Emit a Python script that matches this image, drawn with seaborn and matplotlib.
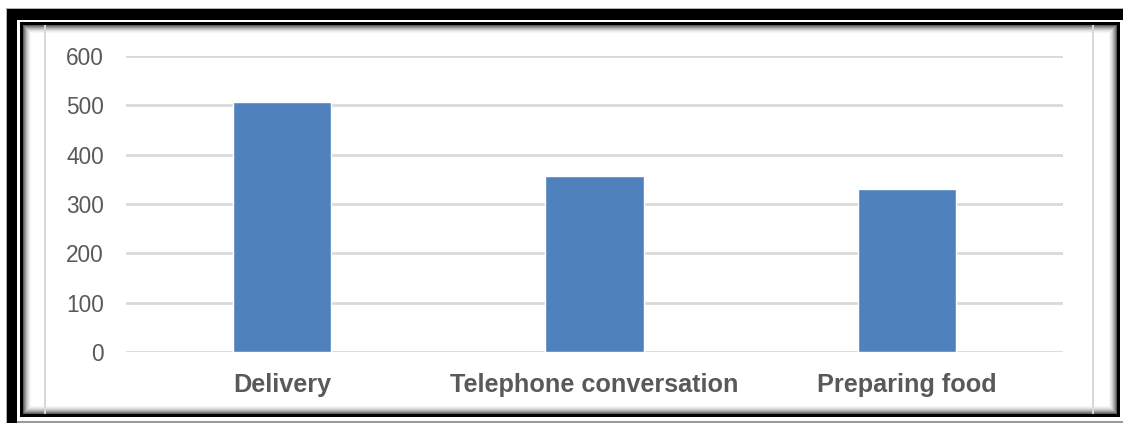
import matplotlib
matplotlib.use("Agg")
import matplotlib.pyplot as plt
from matplotlib.patches import Rectangle
import seaborn as sns
import pandas as pd

categories = ["Delivery", "Telephone conversation", "Preparing food"]
values = [506, 357, 330]
y_ticks = [0, 100, 200, 300, 400, 500, 600]

W, H = 1123, 423
sns.set_theme(style="white")
plt.rcParams["font.family"] = ["Liberation Sans", "DejaVu Sans"]

fig = plt.figure(figsize=(W / 100, H / 100), dpi=100)
fig.patch.set_facecolor("white")


def px_rect(x0, y0, x1, y1, color, z=0, alpha=1.0):
    """Rectangle given in pixel coordinates with the origin at top-left."""
    fig.add_artist(Rectangle((x0 / W, 1 - y1 / H), (x1 - x0) / W, (y1 - y0) / H,
                             transform=fig.transFigure, facecolor=color,
                             edgecolor="none", zorder=z, alpha=alpha))


# page frame: thin grey outline, heavy black band, thin inner black rule
px_rect(6, 8, W, 9, "#b0b0b0")
px_rect(6, 8, 7, H, "#b0b0b0")
px_rect(7, 9, W, 20, "black")
px_rect(7, 9, 17, H, "black")
px_rect(17, 421, W, 423, "#9a9a9a")
px_rect(20, 22, 1120, 417, "black")
px_rect(23, 25, 1117, 414, "white")

# soft inner shadow along the inner rule
shades = ["#5e5e5e", "#808080", "#9c9c9c", "#b6b6b6", "#cccccc", "#dedede", "#ececec", "#f6f6f6"]
for i, c in enumerate(shades):
    px_rect(23 + i, 25 + i, 24 + i, 414 - i, c, z=1)          # left
    px_rect(23 + i, 25 + i, 1117 - i, 26 + i, c, z=1)         # top
    px_rect(1116 - i, 25 + i, 1117 - i, 414 - i, c, z=1)      # right
    px_rect(23 + i, 413 - i, 1117 - i, 414 - i, c, z=1)       # bottom

# chart area side borders
px_rect(44, 25, 46, 414, "#d9d9d9", z=2)
px_rect(1092, 25, 1094, 414, "#d9d9d9", z=2)

ax_left, ax_right, ax_top, ax_bottom = 126, 1063, 56, 352
ax = fig.add_axes([ax_left / W, 1 - ax_bottom / H,
                   (ax_right - ax_left) / W, (ax_bottom - ax_top) / H])
ax.set_facecolor("none")
ax.set_zorder(3)

df = pd.DataFrame({"category": categories, "value": values})
sns.barplot(data=df, x="category", y="value", color="#4F81BD", saturation=1,
            width=0.314, ax=ax, zorder=3)

ax.set_xlim(-0.5, len(categories) - 0.5)
ax.set_ylim(0, 600)
ax.set_yticks(y_ticks)
ax.set_yticklabels([str(v) for v in y_ticks])
ax.yaxis.grid(True, color="#d9d9d9", linewidth=2.0, zorder=0)
ax.set_axisbelow(True)
for s in ax.spines.values():
    s.set_visible(False)
ax.set_xlabel("")
ax.set_ylabel("")
ax.tick_params(axis="y", length=0, pad=16, labelsize=16.3, labelcolor="#595959")
ax.tick_params(axis="x", length=0, pad=15, labelsize=18.2, labelcolor="#595959")
for lbl in ax.get_xticklabels():
    lbl.set_fontweight("bold")

fig.savefig("out.png", dpi=100, facecolor="white")
